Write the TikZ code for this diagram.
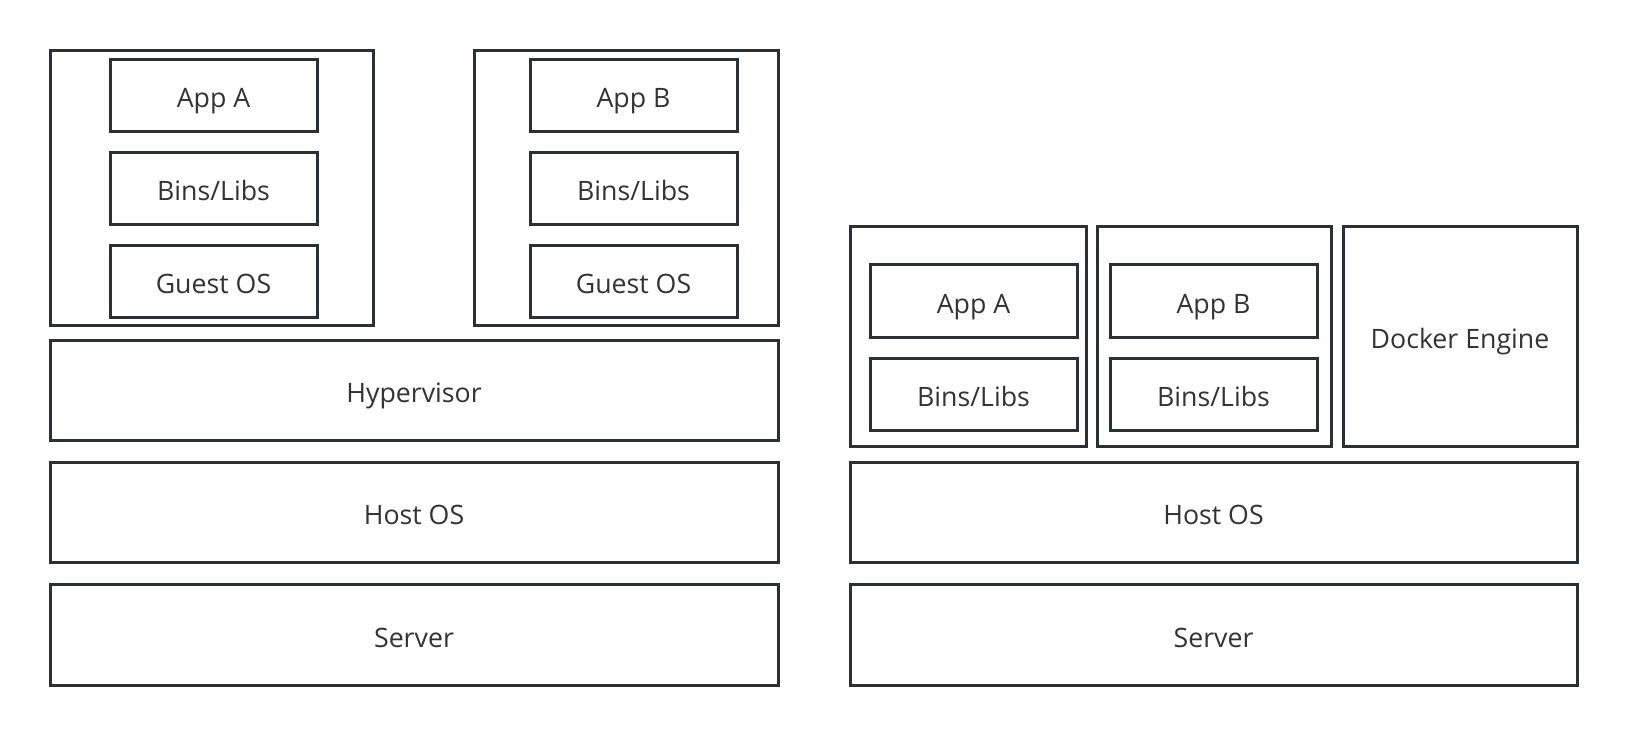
\documentclass[tikz,border=0pt]{standalone}
\usepackage{fontspec}
\setmainfont{Open Sans}
\definecolor{edgegray}{HTML}{2B3036}
\definecolor{textgray}{HTML}{333333}

\begin{document}
\begin{tikzpicture}[
  box/.style={draw=edgegray, line width=0.03cm, inner sep=0pt, text=textgray,
    font=\fontsize{7.6}{9}\selectfont, text height=0.24cm, text depth=0cm,
    minimum width=#1},
  box/.default=2.07cm,
  small/.style={minimum height=0.72cm}]
\useasboundingbox (0,0) rectangle (16.28,7.36);
% left stack: virtual machines
\node[box=3.23cm, minimum height=2.75cm] (vmA) at (2.115,5.475) {};
\node[box=3.04cm, minimum height=2.75cm] (vmB) at (6.26,5.475) {};
\node[box, small] (appA) at (2.135,6.40) {App A};
\node[box, small] (binsA) at (2.135,5.47) {Bins/Libs};
\node[box, small] (guestA) at (2.135,4.545) {Guest OS};
\node[box, small] (appB) at (6.335,6.40) {App B};
\node[box, small] (binsB) at (6.335,5.47) {Bins/Libs};
\node[box, small] (guestB) at (6.335,4.545) {Guest OS};
\node[box=7.28cm, minimum height=1.0cm] (hyper) at (4.14,3.45) {Hypervisor};
\node[box=7.28cm, minimum height=1.0cm] (hostL) at (4.14,2.23) {Host OS};
\node[box=7.28cm, minimum height=1.0cm] (serverL) at (4.14,1.01) {Server};
% right stack: containers
\node[box=2.36cm, minimum height=2.20cm] (ctrA) at (9.68,3.99) {};
\node[box=2.34cm, minimum height=2.20cm] (ctrB) at (12.14,3.99) {};
\node[box=2.34cm, minimum height=2.20cm] (docker) at (14.60,3.99) {Docker Engine};
\node[box, minimum height=0.73cm] (cappA) at (9.735,4.345) {App A};
\node[box, small] (cbinsA) at (9.735,3.41) {Bins/Libs};
\node[box, minimum height=0.73cm] (cappB) at (12.135,4.345) {App B};
\node[box, small] (cbinsB) at (12.135,3.41) {Bins/Libs};
\node[box=7.27cm, minimum height=1.0cm] (hostR) at (12.135,2.23) {Host OS};
\node[box=7.27cm, minimum height=1.0cm] (serverR) at (12.135,1.01) {Server};
\end{tikzpicture}
\end{document}
